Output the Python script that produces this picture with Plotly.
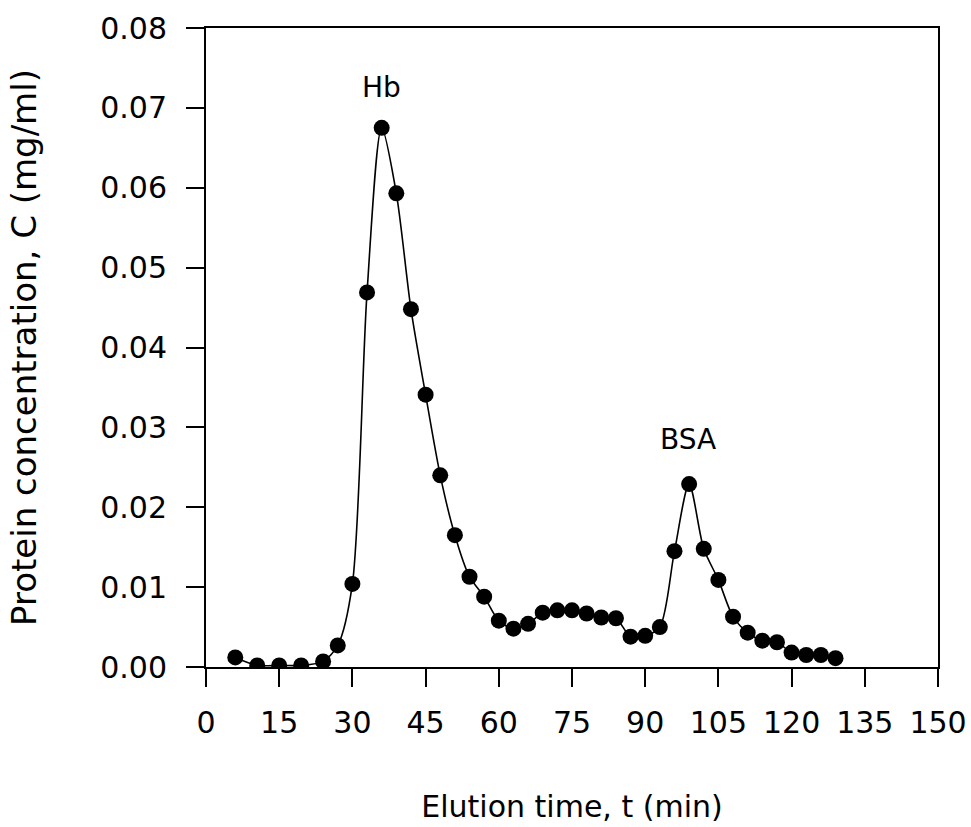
import plotly.graph_objects as go

# elution time (min) and protein concentration (mg/ml)
time_min = [6, 10.5, 15, 19.5, 24, 27, 30, 33, 36, 39, 42, 45, 48, 51, 54, 57, 60,
            63, 66, 69, 72, 75, 78, 81, 84, 87, 90, 93, 96, 99, 102, 105, 108,
            111, 114, 117, 120, 123, 126, 129]
conc_mg_ml = [0.0012, 0.0002, 0.0002, 0.0002, 0.0007, 0.0027, 0.0104, 0.0469,
              0.0675, 0.0593, 0.0448, 0.0341, 0.0240, 0.0165, 0.0113, 0.0088,
              0.0058, 0.0048, 0.0054, 0.0068, 0.0071, 0.0071, 0.0067, 0.0062,
              0.0061, 0.0038, 0.0039, 0.0050, 0.0145, 0.0229, 0.0148, 0.0109,
              0.0063, 0.0043, 0.0033, 0.0031, 0.0018, 0.0015, 0.0015, 0.0011]

peak_labels = ['Hb', 'BSA']
peak_x = [35.9, 98.8]
peak_y = [0.0725, 0.0285]

x_ticks = list(range(0, 151, 15))
y_ticks = [0.00, 0.01, 0.02, 0.03, 0.04, 0.05, 0.06, 0.07, 0.08]

font_name = 'DejaVu Sans, Arial, sans-serif'

fig = go.Figure()
fig.add_trace(go.Scatter(
    x=time_min, y=conc_mg_ml,
    mode='lines+markers',
    line=dict(color='black', width=1.6, shape='spline', smoothing=0.8),
    marker=dict(color='black', size=16),
    showlegend=False
))

for label, px_, py_ in zip(peak_labels, peak_x, peak_y):
    fig.add_annotation(
        x=px_, y=py_, text=label, showarrow=False,
        font=dict(family=font_name, size=28, color='black')
    )

fig.update_layout(
    width=971, height=827,
    paper_bgcolor='white',
    plot_bgcolor='white',
    margin={'l': 206, 'r': 33, 't': 28, 'b': 160},
    font=dict(family=font_name, size=30, color='black'),
)

fig.update_xaxes(
    range=[0, 150],
    tickvals=x_ticks,
    ticks='outside', ticklen=18, tickwidth=2, tickcolor='black',
    showline=True, linecolor='black', linewidth=2, mirror=True,
    showgrid=False, zeroline=False, automargin=False,
    ticklabelstandoff=10, ticklabeloverflow='allow',
    title=dict(text='Elution time, t (min)', font=dict(size=30), standoff=57),
)
fig.update_yaxes(
    range=[0, 0.08],
    tickvals=y_ticks,
    tickformat='.2f',
    ticks='outside', ticklen=18, tickwidth=2, tickcolor='black',
    showline=True, linecolor='black', linewidth=2, mirror=True,
    showgrid=False, zeroline=False, automargin=False,
    ticklabelstandoff=13, ticklabeloverflow='allow',
    title=dict(text='Protein concentration, C (mg/ml)', font=dict(size=34), standoff=53),
)

# drop the default page margin / scrollbars so the figure fills the window
fig.write_html(
    'out.html',
    config={'displayModeBar': False},
    post_script="document.body.style.margin='0';"
                "document.documentElement.style.overflow='hidden';"
)
